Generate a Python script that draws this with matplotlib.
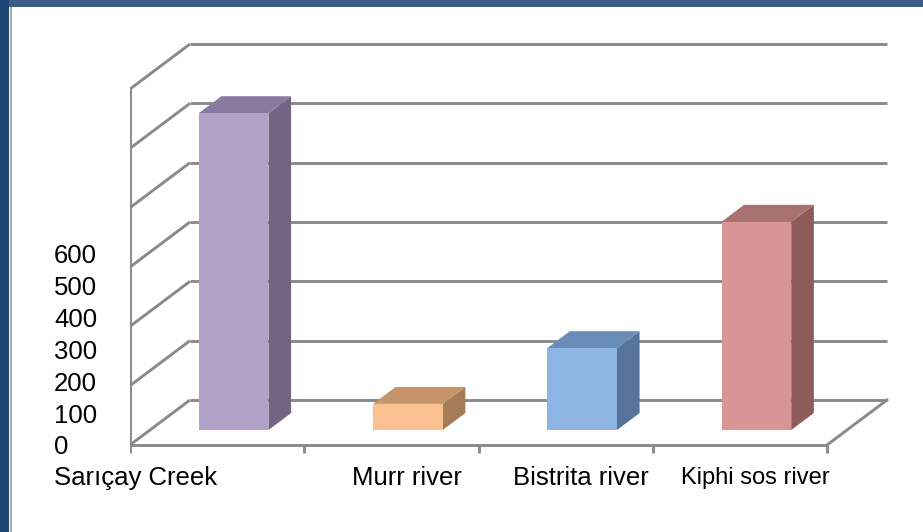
import matplotlib
matplotlib.use("Agg")
import matplotlib.pyplot as plt
from matplotlib.patches import Polygon, Rectangle

# data
rivers = ["Sarıçay Creek", "Murr river", "Bistrita river", "Kiphi sos river"]
values = [534, 44, 138, 351]
tick_vals = [0, 100, 200, 300, 400, 500, 600]
tick_labels = ["0", "100", "200", "300", "400", "500", "600"]

front_cols = ["#b1a0c7", "#fac090", "#8eb4e3", "#d99594"]
top_cols = ["#8a7aa0", "#c4956a", "#6a8cb8", "#a87171"]
side_cols = ["#736483", "#a47c57", "#587399", "#8c5b5a"]

plt.rcParams["font.family"] = ["Liberation Sans", "DejaVu Sans"]

W, H = 923, 532
fig = plt.figure(figsize=(W / 100, H / 100), dpi=100)
fig.patch.set_facecolor("white")

# pixel layout of the pseudo-3d frame
px_x0 = 130.0      # front left corner
px_cat = 174.25    # width of one category
px_y0 = 445.0      # front floor (value 0), from top
ppu = 0.5933       # pixels per value unit
xlim = (-0.5, 3.9)
ylim = (-16, 700)
ax = fig.add_axes([(px_x0 + (xlim[0] + 0.5) * px_cat) / W,
                   (H - px_y0 - (0 - ylim[0]) * ppu) / H,
                   (xlim[1] - xlim[0]) * px_cat / W,
                   (ylim[1] - ylim[0]) * ppu / H])
ax.set_xlim(*xlim)
ax.set_ylim(*ylim)
ax.axis("off")

# depth offset (back wall) in data units
DX = 60 / px_cat
DY = 45 / ppu
grid_c = "#8a8a8a"
lw = 2.1
x_lo, x_hi = -0.5, len(rivers) - 0.5


def proj(x, y, d):
    return (x + d * DX, y + d * DY)


# side wall diagonals + back wall gridlines
for v in tick_vals:
    ax.plot([x_lo, x_lo + DX], [v, v + DY], color=grid_c, lw=lw, zorder=1, solid_capstyle="butt")
    ax.plot([x_lo + DX, x_hi + DX], [v + DY, v + DY], color=grid_c, lw=lw, zorder=1, solid_capstyle="butt")
    # left axis ticks
    ax.plot([x_lo - 8 / px_cat, x_lo], [v, v], color=grid_c, lw=lw, zorder=2, solid_capstyle="butt")

# left axis and floor
ax.plot([x_lo, x_lo], [0, tick_vals[-1]], color=grid_c, lw=lw, zorder=2)
ax.plot([x_lo, x_hi], [0, 0], color=grid_c, lw=lw, zorder=2)
ax.plot([x_hi, x_hi + DX], [0, DY], color=grid_c, lw=lw, zorder=2)
for k in range(len(rivers) + 1):
    ax.plot([x_lo + k, x_lo + k], [0, -8 / ppu], color=grid_c, lw=lw, zorder=2, solid_capstyle="butt")

# bars
bw = 0.4
shift = -0.02
d0, d1 = 1 / 3, 0.71
for i, (v, fc, tc, sc) in enumerate(zip(values, front_cols, top_cols, side_cols)):
    xa, xb = i + shift - bw / 2, i + shift + bw / 2
    front = [proj(xa, 0, d0), proj(xb, 0, d0), proj(xb, v, d0), proj(xa, v, d0)]
    top = [proj(xa, v, d0), proj(xb, v, d0), proj(xb, v, d1), proj(xa, v, d1)]
    side = [proj(xb, 0, d0), proj(xb, 0, d1), proj(xb, v, d1), proj(xb, v, d0)]
    ax.add_patch(Polygon(side, closed=True, facecolor=sc, edgecolor="none", zorder=3))
    ax.add_patch(Polygon(top, closed=True, facecolor=tc, edgecolor="none", zorder=3))
    ax.add_patch(Polygon(front, closed=True, facecolor=fc, edgecolor="none", zorder=4))

# category labels
lab_y = -55.6
for i, name in enumerate(rivers):
    if i == 0:
        ax.text(x_lo + (54 - px_x0) / px_cat, lab_y, name, ha="left", va="center",
                fontsize=18.5, color="black")
    else:
        fs = 17 if i == len(rivers) - 1 else 18.5
        ax.text(i + 0.09, lab_y, name, ha="center", va="center", fontsize=fs, color="black")

# value labels (squeezed axis on the left)
ax_lab = fig.add_axes([54 / W, (H - 445) / H, 0.001, (445 - 254) / H])
ax_lab.set_ylim(0, 600)
ax_lab.set_yticks(tick_vals)
ax_lab.set_yticklabels(tick_labels, fontsize=18.5)
ax_lab.set_xticks([])
ax_lab.tick_params(axis="y", length=0, pad=0)
for t in ax_lab.get_yticklabels():
    t.set_ha("left")
ax_lab.set_frame_on(False)
ax_lab.patch.set_alpha(0)

# slide frame
fig.patches.append(Rectangle((0, 1 - 7 / H), 1, 7 / H, transform=fig.transFigure,
                             facecolor="#3c5e86", edgecolor="none", zorder=10))
fig.patches.append(Rectangle((0, 0), 9 / W, 1, transform=fig.transFigure,
                             facecolor="#1f4670", edgecolor="none", zorder=10))
fig.patches.append(Rectangle((10 / W, 0), 1.5 / W, 1 - 7 / H, transform=fig.transFigure,
                             facecolor="#a8a8a8", edgecolor="none", zorder=10))

fig.savefig("out.png", dpi=100)
